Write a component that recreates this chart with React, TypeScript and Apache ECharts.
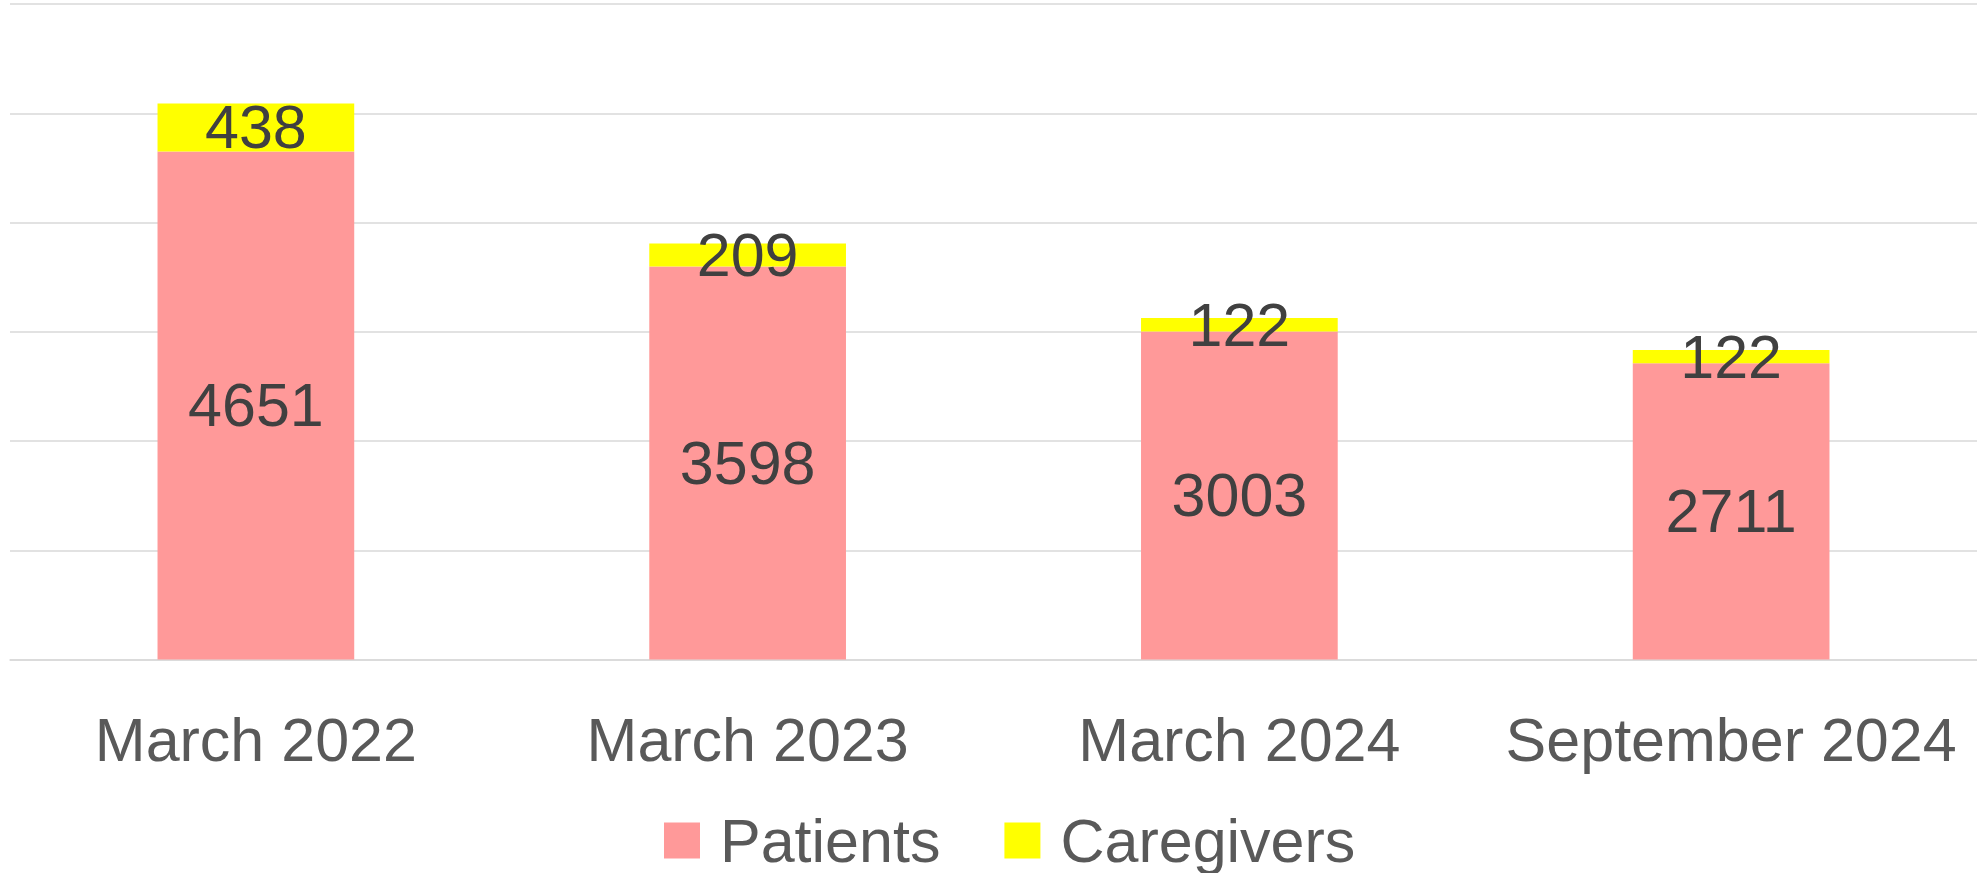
import React, { useEffect, useRef } from "react";
import * as echarts from "echarts";

const categories = ["March 2022", "March 2023", "March 2024", "September 2024"];
const patients = [4651, 3598, 3003, 2711];
const caregivers = [438, 209, 122, 122];
const seriesNames = ["Patients", "Caregivers"];

export default function App() {
  const ref = useRef<HTMLDivElement>(null);
  useEffect(() => {
    if (!ref.current) return;
    const chart = echarts.init(ref.current, null, { renderer: "svg" });
    const labelStyle = {
      show: true,
      position: "inside",
      fontFamily: "Liberation Sans",
      fontSize: 61,
      color: "#404040",
    };
    chart.setOption({
      animation: false,
      backgroundColor: "#ffffff",
      grid: { left: 10, right: 0, top: 4, bottom: 213.5, containLabel: false },
      legend: {
        data: seriesNames,
        bottom: -3,
        left: 659,
        itemWidth: 36,
        itemHeight: 36,
        itemGap: 64,
        icon: "rect",
        textStyle: {
          fontFamily: "Liberation Sans",
          fontSize: 61,
          color: "#595959",
          padding: [0, 0, 0, 15],
        },
      },
      xAxis: {
        type: "category",
        data: categories,
        axisLine: { lineStyle: { color: "#D9D9D9", width: 1.5 } },
        axisTick: { show: false },
        axisLabel: {
          interval: 0,
          fontFamily: "Liberation Sans",
          fontSize: 61,
          color: "#595959",
          margin: 50,
        },
      },
      yAxis: {
        type: "value",
        min: 0,
        max: 6000,
        interval: 1000,
        axisLabel: { show: false },
        axisLine: { show: false },
        axisTick: { show: false },
        splitLine: { lineStyle: { color: "#D9D9D9", width: 1.5 } },
      },
      series: [
        {
          name: seriesNames[0],
          type: "bar",
          stack: "total",
          data: patients,
          barWidth: "40%",
          itemStyle: { color: "#FF9999" },
          label: labelStyle,
        },
        {
          name: seriesNames[1],
          type: "bar",
          stack: "total",
          data: caregivers,
          barWidth: "40%",
          itemStyle: { color: "#FFFF00" },
          label: labelStyle,
        },
      ],
    });
    return () => chart.dispose();
  }, []);
  return (
    <div
      ref={ref}
      style={{ position: "absolute", left: 0, top: 0, width: 1977, height: 873 }}
    />
  );
}
